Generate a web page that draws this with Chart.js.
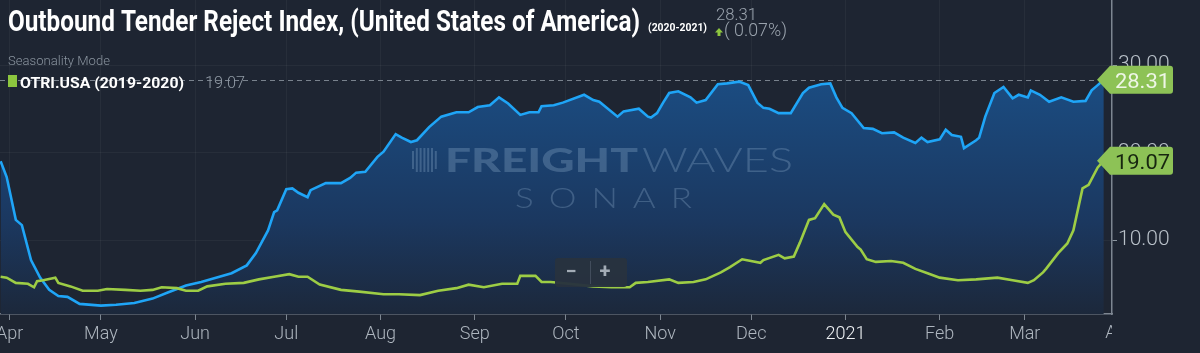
<!DOCTYPE html>
<html><head><meta charset="utf-8">
<script src="https://cdn.jsdelivr.net/npm/chart.js@4.4.1/dist/chart.umd.min.js"></script>
<style>html,body{margin:0;padding:0;background:#1e2532;overflow:hidden}#wrap{width:1200px;height:353px;position:relative}</style>
</head><body><div id="wrap"><canvas id="c" width="1200" height="353"></canvas></div>
<script>
// ---- data (x = days since 2020-04-01 for current season, aligned seasonally) ----
const monthDays   = [0, 30, 61, 91, 122, 153, 183, 214, 244, 275, 306, 334];
const monthLabels = ['Apr','May','Jun','Jul','Aug','Sep','Oct','Nov','Dec','2021','Feb','Mar'];
const lastMonthDay = 365, lastMonthLabel = 'Apr';
const yTickValues = [10, 20, 30];

const blueDays = [-3,-1,2,4,7,10,13,16,19,23,30,35,41,47,52,58,63,69,73,78,81,85,87,88,91,93,95,98,99,104,109,112,114,117,121,123,127,129,132,134,138,142,147,151,154,158,161,164,168,171,174,175,179,182,189,192,194,200,202,207,210,211,213,215,217,220,224,226,229,233,236,240,243,246,248,250,253,257,261,263,267,270,272,274,277,281,284,287,291,294,298,300,302,306,308,310,313,314,318,319,321,324,327,330,332,335,336,339,342,346,350,354,356,358,360];
const blueValues = [19.0,17.2,12.3,11.7,7.7,5.7,4.3,3.6,3.5,2.7,2.5,2.6,2.8,3.3,4.0,4.8,5.2,5.8,6.2,7.1,8.5,11.1,13.2,13.4,15.8,15.9,15.4,14.9,15.7,16.5,16.5,17.1,17.7,17.8,19.5,20.1,22.1,21.7,21.2,21.4,22.9,24.1,24.6,24.6,25.2,25.4,26.3,25.6,24.3,24.6,24.6,25.3,25.4,25.7,26.6,26.0,25.8,24.1,24.7,25.0,24.1,24.0,24.5,25.7,26.8,27.0,26.3,25.7,26.0,27.8,27.9,28.1,27.7,25.7,25.1,25.0,24.5,24.5,26.8,27.4,27.8,27.9,26.3,25.1,24.5,22.8,22.7,22.2,22.3,21.7,21.1,21.7,21.2,21.5,22.6,22.0,21.8,20.5,21.4,21.7,24.1,26.8,27.5,26.2,26.6,26.3,27.1,26.6,25.8,26.3,25.8,25.9,27.1,27.7,28.31];

const greenDays = [-3,-1,2,6,8,9,11,15,16,20,24,29,32,38,43,47,50,55,58,62,65,71,77,82,87,92,95,98,102,109,115,123,128,135,141,147,151,156,162,167,168,173,175,178,184,192,198,204,206,210,217,220,225,229,234,237,241,247,248,253,255,258,260,263,265,268,271,273,275,279,280,282,285,290,294,298,302,306,312,318,325,330,335,337,340,341,345,348,350,353,355,358,360];
const greenValues = [5.8,5.7,5.1,5.0,4.6,5.3,5.4,5.7,5.1,4.7,4.2,4.2,4.4,4.3,4.2,4.3,4.6,4.5,4.2,4.2,4.7,5.0,5.1,5.5,5.8,6.1,5.8,5.8,4.9,4.3,4.1,3.8,3.8,3.7,4.2,4.5,4.9,4.6,5.0,5.0,5.9,5.9,5.2,5.2,5.0,4.7,4.6,4.6,5.1,5.2,5.5,5.1,5.2,5.5,6.3,6.9,7.8,7.4,7.7,8.3,7.9,8.1,9.7,12.3,12.5,14.1,12.9,12.6,10.9,9.2,8.9,7.8,7.5,7.6,7.4,6.7,6.2,5.7,5.4,5.5,5.7,5.4,5.1,5.4,6.3,6.7,8.5,9.6,11.1,15.9,16.3,18.3,19.07];

const titleText = 'Outbound Tender Reject Index, (United States of America)';
const titleRange = '(2020-2021)';
const headValue = '28.31';
const headChange = '( 0.07%)';
const modeText = 'Seasonality Mode';
const legendText = 'OTRI.USA (2019-2020)';
const legendValue = '19.07';

// ---- colours ----
const BG = '#1e2532';
const BLUE = '#1fa5f7';
const GREEN = '#9dcd45';
const TAG = '#8dc256';
const GREY = '#9aa3ad';

function fitText(ctx, text, x, y, w, font, color) {
  ctx.save();
  ctx.font = font; ctx.fillStyle = color; ctx.textBaseline = 'alphabetic'; ctx.textAlign = 'left';
  const m = ctx.measureText(text).width;
  ctx.translate(x, y); ctx.scale(w / m, 1);
  ctx.fillText(text, 0, 0);
  ctx.restore();
}

const deco = {
  id: 'deco',
  beforeDraw(chart) {
    const c = chart.ctx;
    c.save(); c.fillStyle = BG; c.fillRect(0, 0, chart.width, chart.height); c.restore();
  },
  beforeDatasetsDraw(chart) {
    const c = chart.ctx, y = chart.scales.y.getPixelForValue(blueValues[blueValues.length - 1]);
    c.save();
    c.strokeStyle = 'rgba(170,180,190,0.65)'; c.lineWidth = 1; c.setLineDash([5, 4]);
    c.beginPath(); c.moveTo(chart.chartArea.left, Math.round(y) + 0.5); c.lineTo(1098, Math.round(y) + 0.5); c.stroke();
    c.restore();
  },
  afterDatasetsDraw(chart) {
    const c = chart.ctx;
    const col = 'rgba(150,178,210,0.30)';
    c.save();
    c.fillStyle = col;
    for (let i = 0; i < 7; i++) {
      const h = (i === 0 || i === 6) ? 18 : 24;
      c.fillRect(412 + i * 3.8, 148 + (24 - h) / 2, 2, h);
    }
    fitText(c, 'FREIGHT', 445, 172, 193, '900 33px Lato', col);
    fitText(c, 'WAVES', 642, 172, 151, '300 33px Lato', col);
    c.save(); c.letterSpacing = '12px';
    fitText(c, 'SONAR', 515, 208, 192, '300 28px Lato', col);
    c.restore();
    c.restore();
  },
  afterDraw(chart) {
    const c = chart.ctx, ys = chart.scales.y, xs = chart.scales.x;
    fitText(c, titleText, 8, 31, 632, 'bold 30px Roboto', '#ffffff');
    fitText(c, titleRange, 648, 31, 59, 'bold 11px Roboto', '#ffffff');
    fitText(c, headValue, 716, 20, 41, '300 17px Roboto', GREY);
    c.save(); c.fillStyle = '#8dc63f';
    c.beginPath(); c.moveTo(719, 28); c.lineTo(723, 32.5); c.lineTo(715, 32.5); c.closePath(); c.fill();
    c.fillRect(717.5, 32, 3, 4); c.restore();
    fitText(c, headChange, 724, 36, 63, '300 18px Roboto', GREY);
    fitText(c, modeText, 8, 65, 102, '300 13px Roboto', '#8a949f');
    c.save(); c.fillStyle = '#8dc63f'; c.fillRect(8, 75, 9, 12); c.restore();
    fitText(c, legendText, 20, 88, 164, 'bold 15px Roboto', '#ffffff');
    fitText(c, legendValue, 205, 88, 40, '300 17px Roboto', '#8f99a4');

    c.save();
    c.beginPath(); c.rect(1000, chart.chartArea.bottom, chart.chartArea.right - 1000, 40); c.clip();
    c.font = '300 18px Roboto'; c.fillStyle = '#aeb6bf'; c.textAlign = 'center'; c.textBaseline = 'top';
    c.fillText(lastMonthLabel, xs.getPixelForValue(lastMonthDay), chart.chartArea.bottom + 10);
    c.restore();

    c.save();
    c.fillStyle = 'rgba(40,50,62,0.96)';
    c.beginPath(); c.roundRect(555, 258, 72, 29, 3); c.fill();
    c.strokeStyle = 'rgba(70,80,95,0.9)'; c.lineWidth = 1;
    c.beginPath(); c.moveTo(590.5, 261); c.lineTo(590.5, 284); c.stroke();
    c.fillStyle = '#a3acb6'; c.font = 'bold 20px Roboto'; c.textAlign = 'center'; c.textBaseline = 'middle';
    c.fillText('\u2212', 571, 273); c.fillText('+', 605, 273);
    c.restore();

    const tags = [
      {v: blueValues[blueValues.length - 1], txt: '#eef6e6'},
      {v: greenValues[greenValues.length - 1], txt: '#17260f'}
    ];
    tags.forEach(t => {
      const y = ys.getPixelForValue(t.v);
      c.save();
      c.fillStyle = TAG;
      c.beginPath();
      c.moveTo(1097, y); c.lineTo(1110, y - 14); c.lineTo(1170, y - 14);
      c.quadraticCurveTo(1173, y - 14, 1173, y - 11);
      c.lineTo(1173, y + 11); c.quadraticCurveTo(1173, y + 14, 1170, y + 14);
      c.lineTo(1110, y + 14); c.closePath(); c.fill();
      fitText(c, t.v.toFixed(2), 1115, y + 8, 55, '400 21px Roboto', t.txt);
      c.restore();
    });
  }
};

function zeroPad(s) { s.paddingLeft = 0; s.paddingRight = 0; s.paddingTop = 0; s.paddingBottom = 0; }

const ctx = document.getElementById('c').getContext('2d');
new Chart(ctx, {
  type: 'line',
  data: {
    datasets: [
      {
        label: 'OTRI.USA (2019-2020)',
        data: greenDays.map((d, i) => ({x: d, y: greenValues[i]})),
        borderColor: GREEN, borderWidth: 2.6, pointRadius: 0, tension: 0, fill: false
      },
      {
        label: 'OTRI.USA (2020-2021)',
        data: blueDays.map((d, i) => ({x: d, y: blueValues[i]})),
        borderColor: BLUE, borderWidth: 2.6, pointRadius: 0, tension: 0,
        fill: 'start',
        backgroundColor: (context) => {
          const ch = context.chart, a = ch.chartArea;
          if (!a) return 'rgba(28,80,135,0.8)';
          const g = ch.ctx.createLinearGradient(0, a.top, 0, a.bottom);
          g.addColorStop(0, '#1d5694');
          g.addColorStop(0.3, '#1b4a7e');
          g.addColorStop(0.7, '#1b3860');
          g.addColorStop(1, '#1c283b');
          return g;
        }
      }
    ]
  },
  options: {
    responsive: false, devicePixelRatio: 1, animation: false,
    layout: {padding: 0, autoPadding: false},
    plugins: {legend: {display: false}, tooltip: {enabled: false}, title: {display: false}},
    scales: {
      x: {
        type: 'linear', min: -3.2, max: 362.7, z: 1,
        afterBuildTicks: (s) => { s.ticks = monthDays.map(v => ({value: v})); },
        afterFit: (s) => { s.height = 39; zeroPad(s); },
        grid: {color: 'rgba(255,255,255,0.045)', tickColor: '#7d8691', tickLength: 6, drawTicks: true},
        border: {color: '#7d8691', width: 1.5},
        ticks: {
          autoSkip: false, maxRotation: 0, padding: 4,
          font: {family: 'Roboto', size: 18, weight: '300'},
          color: (c) => (c.tick && c.tick.value === 275) ? '#eef1f4' : '#aeb6bf',
          callback: (v) => { const i = monthDays.indexOf(v); return i >= 0 ? monthLabels[i] : ''; }
        }
      },
      y: {
        position: 'right', min: 1.543, max: 37.43, z: 1,
        afterBuildTicks: (s) => { s.ticks = yTickValues.map(v => ({value: v})); },
        afterFit: (s) => { s.width = 88; zeroPad(s); },
        grid: {color: 'rgba(255,255,255,0.045)', tickColor: '#8d96a0', tickLength: 5, drawTicks: true},
        border: {color: '#7d8691', width: 1.5},
        ticks: {
          padding: 1,
          font: {family: 'Roboto', size: 21, weight: '300'},
          color: '#b9c1c9',
          callback: (v) => Number(v).toFixed(2)
        }
      }
    }
  },
  plugins: [deco]
});
</script>
</body></html>
